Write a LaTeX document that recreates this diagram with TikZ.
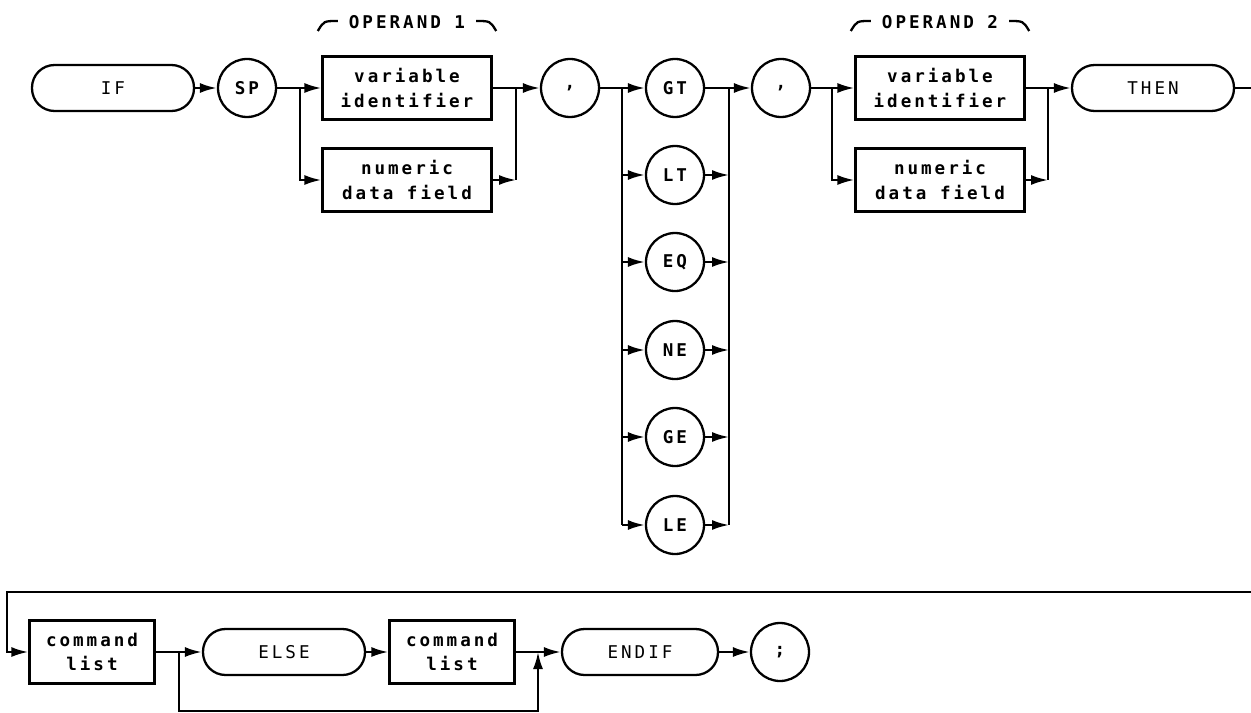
\documentclass[tikz,border=0pt]{standalone}
\usepackage{fontspec}
\setmainfont{DejaVu Sans Mono}
\newfontfamily\widefont{DejaVu Sans Mono}[LetterSpace=17]
\usetikzlibrary{arrows.meta}

\begin{document}
\begin{tikzpicture}[
    x=0.02cm, y=-0.02cm, line width=1.3pt,
    box/.style={draw, minimum width=3.38cm, minimum height=1.26cm, inner sep=0pt, align=center, font=\widefont\bfseries\fontsize{10}{14}\selectfont},
    cbox/.style={box, minimum width=2.5cm},
    term/.style={draw, circle, minimum size=1.16cm, inner sep=0pt, font=\widefont\bfseries\fontsize{10}{14}\selectfont},
    kw/.style={draw, rounded corners=0.45cm, minimum width=3.24cm, minimum height=0.92cm, inner sep=0pt, font=\widefont\fontsize{10}{14}\selectfont},
    arr/.style={-{Latex[length=3.4mm, width=2mm]}},
    oplbl/.style={inner sep=0pt, font=\widefont\bfseries\fontsize{10}{14}\selectfont}
]
\useasboundingbox (0,0) rectangle (1251,713);

% first line
\node[kw] (kif) at (113,88) {IF};
\node[term] (sp) at (247,88) {SP};
\node[box] (vid1) at (407,88) {variable\\identifier};
\node[box] (num1) at (407,180) {numeric\\data field};
\node[term] (cm1) at (570,88) {,};
\node[term] (gt) at (675,88) {GT};
\node[term] (lt) at (675,175) {LT};
\node[term] (eq) at (675,262) {EQ};
\node[term] (ne) at (675,350) {NE};
\node[term] (ge) at (675,437) {GE};
\node[term] (le) at (675,525) {LE};
\node[term] (cm2) at (781,88) {,};
\node[box] (vid2) at (940,88) {variable\\identifier};
\node[box] (num2) at (940,180) {numeric\\data field};
\node[kw] (then) at (1153,88) {THEN};

\node[oplbl] (op1) at (407,22) {OPERAND 1};
\node[oplbl] (op2) at (940,22) {OPERAND 2};
\foreach \o in {op1,op2}{
  \draw ([shift={(-30,9)}]\o.west) .. controls ([shift={(-24,-1)}]\o.west) .. ([shift={(-10,-1)}]\o.west);
  \draw ([shift={(10,-1)}]\o.east) .. controls ([shift={(24,-1)}]\o.east) .. ([shift={(30,9)}]\o.east);
}

% second line
\node[cbox] (cl1) at (92,652) {command\\list};
\node[kw] (else) at (284,652) {ELSE};
\node[cbox] (cl2) at (452,652) {command\\list};
\node[kw, minimum width=3.12cm] (endif) at (640,652) {ENDIF};
\node[term] (semi) at (780,652) {;};

% branch points
\coordinate (s1) at (300,88);
\coordinate (m1) at (516,88);
\coordinate (m1b) at (516,180);
\coordinate (s2) at (622,88);
\coordinate (s2b) at (622,525);
\coordinate (m2) at (729,88);
\coordinate (m2b) at (729,525);
\coordinate (s3) at (832,88);
\coordinate (m3) at (1048,88);
\coordinate (m3b) at (1048,180);
\coordinate (e1) at (1251,88);
\coordinate (e2) at (1251,592);
\coordinate (w2) at (7,592);
\coordinate (s4) at (179,652);
\coordinate (m4) at (538,652);
\coordinate (bot) at (0,711);

\draw[arr] (kif) -- (sp);
\draw[arr] (sp) -- (vid1);
\draw[arr] (s1) |- (num1);
\draw[arr] (vid1) -- (cm1);
\draw[arr] (num1) -- (m1b);
\draw (m1) -- (m1b);
\draw[arr] (cm1) -- (gt);
\draw[arr] (gt) -- (cm2);
\draw (s2) -- (s2b);
\draw (m2) -- (m2b);
\foreach \n in {lt,eq,ne,ge,le}{
  \draw[arr] (s2 |- \n) -- (\n);
  \draw[arr] (\n) -- (m2 |- \n);
}
\draw[arr] (cm2) -- (vid2);
\draw[arr] (s3) |- (num2);
\draw[arr] (vid2) -- (then);
\draw[arr] (num2) -- (m3b);
\draw (m3) -- (m3b);
\draw (then) -- (e1);

\draw[arr] (e2) -- (w2) |- (cl1);
\draw[arr] (cl1) -- (else);
\draw[arr] (else) -- (cl2);
\draw[arr] (cl2) -- (endif);
\draw[arr] (endif) -- (semi);
\draw[arr] (s4) |- (bot -| m4) -- (m4);
\end{tikzpicture}
\end{document}
